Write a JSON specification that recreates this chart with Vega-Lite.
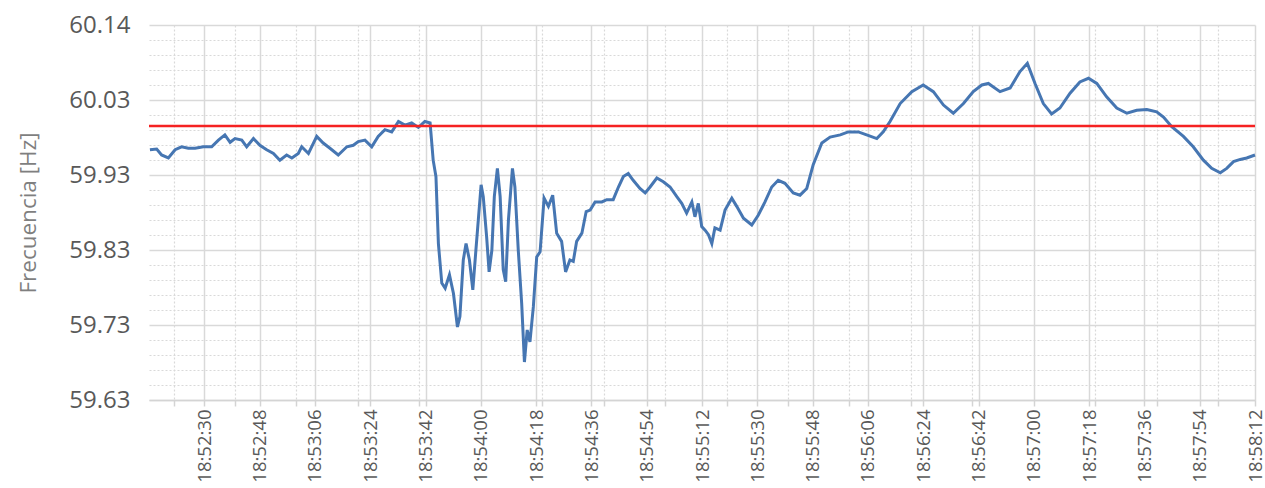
{
  "$schema": "https://vega.github.io/schema/vega-lite/v6.json",
  "width": 1106,
  "height": 375,
  "autosize": {"type": "none"},
  "padding": {"left": 149, "top": 25, "right": 10, "bottom": 88},
  "background": "white",
  "config": {"view": {"stroke": null}, "font": "Open Sans"},
  "datasets": {
    "freq": [
      {"t": "2024-01-01T18:52:12.3", "f": 59.968},
      {"t": "2024-01-01T18:52:14.5", "f": 59.969},
      {"t": "2024-01-01T18:52:16.1", "f": 59.961},
      {"t": "2024-01-01T18:52:18.3", "f": 59.957},
      {"t": "2024-01-01T18:52:20.5", "f": 59.968},
      {"t": "2024-01-01T18:52:22.6", "f": 59.972},
      {"t": "2024-01-01T18:52:24.8", "f": 59.970},
      {"t": "2024-01-01T18:52:27.0", "f": 59.970},
      {"t": "2024-01-01T18:52:29.7", "f": 59.972},
      {"t": "2024-01-01T18:52:32.4", "f": 59.972},
      {"t": "2024-01-01T18:52:34.6", "f": 59.981},
      {"t": "2024-01-01T18:52:36.7", "f": 59.988},
      {"t": "2024-01-01T18:52:38.4", "f": 59.978},
      {"t": "2024-01-01T18:52:40.0", "f": 59.983},
      {"t": "2024-01-01T18:52:42.2", "f": 59.981},
      {"t": "2024-01-01T18:52:43.8", "f": 59.972},
      {"t": "2024-01-01T18:52:46.0", "f": 59.983},
      {"t": "2024-01-01T18:52:48.1", "f": 59.974},
      {"t": "2024-01-01T18:52:50.3", "f": 59.968},
      {"t": "2024-01-01T18:52:52.5", "f": 59.963},
      {"t": "2024-01-01T18:52:54.6", "f": 59.954},
      {"t": "2024-01-01T18:52:56.8", "f": 59.961},
      {"t": "2024-01-01T18:52:58.5", "f": 59.957},
      {"t": "2024-01-01T18:53:00.6", "f": 59.963},
      {"t": "2024-01-01T18:53:01.7", "f": 59.972},
      {"t": "2024-01-01T18:53:03.9", "f": 59.963},
      {"t": "2024-01-01T18:53:06.6", "f": 59.986},
      {"t": "2024-01-01T18:53:08.7", "f": 59.977},
      {"t": "2024-01-01T18:53:10.9", "f": 59.970},
      {"t": "2024-01-01T18:53:13.6", "f": 59.961},
      {"t": "2024-01-01T18:53:16.4", "f": 59.972},
      {"t": "2024-01-01T18:53:18.5", "f": 59.974},
      {"t": "2024-01-01T18:53:20.1", "f": 59.979},
      {"t": "2024-01-01T18:53:22.3", "f": 59.981},
      {"t": "2024-01-01T18:53:24.5", "f": 59.972},
      {"t": "2024-01-01T18:53:26.6", "f": 59.986},
      {"t": "2024-01-01T18:53:28.8", "f": 59.995},
      {"t": "2024-01-01T18:53:31.0", "f": 59.992},
      {"t": "2024-01-01T18:53:33.2", "f": 60.006},
      {"t": "2024-01-01T18:53:35.3", "f": 60.001},
      {"t": "2024-01-01T18:53:37.5", "f": 60.004},
      {"t": "2024-01-01T18:53:39.7", "f": 59.998},
      {"t": "2024-01-01T18:53:41.8", "f": 60.006},
      {"t": "2024-01-01T18:53:43.5", "f": 60.004},
      {"t": "2024-01-01T18:53:44.5", "f": 59.954},
      {"t": "2024-01-01T18:53:45.4", "f": 59.932},
      {"t": "2024-01-01T18:53:46.2", "f": 59.842},
      {"t": "2024-01-01T18:53:47.3", "f": 59.789},
      {"t": "2024-01-01T18:53:48.4", "f": 59.782},
      {"t": "2024-01-01T18:53:49.8", "f": 59.800},
      {"t": "2024-01-01T18:53:51.1", "f": 59.775},
      {"t": "2024-01-01T18:53:52.4", "f": 59.730},
      {"t": "2024-01-01T18:53:53.2", "f": 59.744},
      {"t": "2024-01-01T18:53:54.3", "f": 59.820},
      {"t": "2024-01-01T18:53:55.2", "f": 59.842},
      {"t": "2024-01-01T18:53:56.3", "f": 59.820},
      {"t": "2024-01-01T18:53:57.4", "f": 59.780},
      {"t": "2024-01-01T18:53:58.4", "f": 59.833},
      {"t": "2024-01-01T18:54:00.1", "f": 59.921},
      {"t": "2024-01-01T18:54:00.8", "f": 59.905},
      {"t": "2024-01-01T18:54:01.9", "f": 59.851},
      {"t": "2024-01-01T18:54:02.7", "f": 59.804},
      {"t": "2024-01-01T18:54:03.6", "f": 59.833},
      {"t": "2024-01-01T18:54:04.4", "f": 59.905},
      {"t": "2024-01-01T18:54:05.4", "f": 59.943},
      {"t": "2024-01-01T18:54:06.3", "f": 59.905},
      {"t": "2024-01-01T18:54:07.3", "f": 59.807},
      {"t": "2024-01-01T18:54:08.1", "f": 59.791},
      {"t": "2024-01-01T18:54:09.0", "f": 59.874},
      {"t": "2024-01-01T18:54:10.3", "f": 59.943},
      {"t": "2024-01-01T18:54:11.1", "f": 59.918},
      {"t": "2024-01-01T18:54:12.2", "f": 59.833},
      {"t": "2024-01-01T18:54:13.3", "f": 59.762},
      {"t": "2024-01-01T18:54:14.2", "f": 59.683},
      {"t": "2024-01-01T18:54:15.1", "f": 59.726},
      {"t": "2024-01-01T18:54:16.0", "f": 59.710},
      {"t": "2024-01-01T18:54:17.1", "f": 59.757},
      {"t": "2024-01-01T18:54:18.2", "f": 59.824},
      {"t": "2024-01-01T18:54:19.3", "f": 59.831},
      {"t": "2024-01-01T18:54:20.6", "f": 59.903},
      {"t": "2024-01-01T18:54:22.0", "f": 59.892},
      {"t": "2024-01-01T18:54:23.4", "f": 59.907},
      {"t": "2024-01-01T18:54:24.7", "f": 59.856},
      {"t": "2024-01-01T18:54:26.3", "f": 59.845},
      {"t": "2024-01-01T18:54:27.6", "f": 59.804},
      {"t": "2024-01-01T18:54:29.0", "f": 59.820},
      {"t": "2024-01-01T18:54:30.1", "f": 59.818},
      {"t": "2024-01-01T18:54:31.2", "f": 59.845},
      {"t": "2024-01-01T18:54:32.9", "f": 59.856},
      {"t": "2024-01-01T18:54:34.3", "f": 59.885},
      {"t": "2024-01-01T18:54:35.6", "f": 59.887},
      {"t": "2024-01-01T18:54:37.2", "f": 59.898},
      {"t": "2024-01-01T18:54:39.4", "f": 59.898},
      {"t": "2024-01-01T18:54:41.0", "f": 59.901},
      {"t": "2024-01-01T18:54:43.1", "f": 59.901},
      {"t": "2024-01-01T18:54:44.8", "f": 59.918},
      {"t": "2024-01-01T18:54:46.4", "f": 59.932},
      {"t": "2024-01-01T18:54:48.0", "f": 59.936},
      {"t": "2024-01-01T18:54:49.6", "f": 59.927},
      {"t": "2024-01-01T18:54:51.8", "f": 59.916},
      {"t": "2024-01-01T18:54:53.5", "f": 59.910},
      {"t": "2024-01-01T18:54:55.1", "f": 59.918},
      {"t": "2024-01-01T18:54:57.3", "f": 59.930},
      {"t": "2024-01-01T18:54:59.4", "f": 59.925},
      {"t": "2024-01-01T18:55:01.6", "f": 59.918},
      {"t": "2024-01-01T18:55:03.8", "f": 59.905},
      {"t": "2024-01-01T18:55:05.4", "f": 59.896},
      {"t": "2024-01-01T18:55:07.0", "f": 59.883},
      {"t": "2024-01-01T18:55:08.7", "f": 59.898},
      {"t": "2024-01-01T18:55:09.7", "f": 59.878},
      {"t": "2024-01-01T18:55:10.8", "f": 59.896},
      {"t": "2024-01-01T18:55:11.9", "f": 59.865},
      {"t": "2024-01-01T18:55:13.0", "f": 59.860},
      {"t": "2024-01-01T18:55:14.1", "f": 59.854},
      {"t": "2024-01-01T18:55:15.2", "f": 59.842},
      {"t": "2024-01-01T18:55:16.2", "f": 59.863},
      {"t": "2024-01-01T18:55:17.9", "f": 59.860},
      {"t": "2024-01-01T18:55:19.5", "f": 59.887},
      {"t": "2024-01-01T18:55:21.7", "f": 59.903},
      {"t": "2024-01-01T18:55:23.3", "f": 59.892},
      {"t": "2024-01-01T18:55:25.5", "f": 59.876},
      {"t": "2024-01-01T18:55:28.2", "f": 59.867},
      {"t": "2024-01-01T18:55:30.3", "f": 59.880},
      {"t": "2024-01-01T18:55:32.5", "f": 59.898},
      {"t": "2024-01-01T18:55:34.7", "f": 59.918},
      {"t": "2024-01-01T18:55:36.8", "f": 59.927},
      {"t": "2024-01-01T18:55:39.0", "f": 59.923},
      {"t": "2024-01-01T18:55:41.7", "f": 59.910},
      {"t": "2024-01-01T18:55:43.9", "f": 59.907},
      {"t": "2024-01-01T18:55:46.1", "f": 59.916},
      {"t": "2024-01-01T18:55:48.2", "f": 59.948},
      {"t": "2024-01-01T18:55:51.0", "f": 59.977},
      {"t": "2024-01-01T18:55:53.7", "f": 59.985},
      {"t": "2024-01-01T18:55:57.0", "f": 59.988},
      {"t": "2024-01-01T18:55:59.6", "f": 59.992},
      {"t": "2024-01-01T18:56:02.9", "f": 59.992},
      {"t": "2024-01-01T18:56:05.6", "f": 59.988},
      {"t": "2024-01-01T18:56:08.9", "f": 59.983},
      {"t": "2024-01-01T18:56:11.0", "f": 59.992},
      {"t": "2024-01-01T18:56:13.2", "f": 60.006},
      {"t": "2024-01-01T18:56:16.5", "f": 60.030},
      {"t": "2024-01-01T18:56:20.3", "f": 60.046},
      {"t": "2024-01-01T18:56:24.0", "f": 60.055},
      {"t": "2024-01-01T18:56:27.3", "f": 60.046},
      {"t": "2024-01-01T18:56:30.6", "f": 60.028},
      {"t": "2024-01-01T18:56:33.8", "f": 60.017},
      {"t": "2024-01-01T18:56:37.1", "f": 60.030},
      {"t": "2024-01-01T18:56:40.3", "f": 60.046},
      {"t": "2024-01-01T18:56:43.1", "f": 60.055},
      {"t": "2024-01-01T18:56:45.2", "f": 60.057},
      {"t": "2024-01-01T18:56:49.0", "f": 60.046},
      {"t": "2024-01-01T18:56:52.3", "f": 60.051},
      {"t": "2024-01-01T18:56:55.5", "f": 60.073},
      {"t": "2024-01-01T18:56:57.9", "f": 60.084},
      {"t": "2024-01-01T18:57:00.4", "f": 60.057},
      {"t": "2024-01-01T18:57:03.1", "f": 60.030},
      {"t": "2024-01-01T18:57:05.8", "f": 60.016},
      {"t": "2024-01-01T18:57:08.5", "f": 60.024},
      {"t": "2024-01-01T18:57:11.8", "f": 60.044},
      {"t": "2024-01-01T18:57:15.0", "f": 60.059},
      {"t": "2024-01-01T18:57:17.8", "f": 60.064},
      {"t": "2024-01-01T18:57:20.5", "f": 60.057},
      {"t": "2024-01-01T18:57:23.7", "f": 60.039},
      {"t": "2024-01-01T18:57:27.0", "f": 60.024},
      {"t": "2024-01-01T18:57:30.3", "f": 60.017},
      {"t": "2024-01-01T18:57:33.5", "f": 60.021},
      {"t": "2024-01-01T18:57:36.8", "f": 60.022},
      {"t": "2024-01-01T18:57:40.0", "f": 60.019},
      {"t": "2024-01-01T18:57:42.2", "f": 60.012},
      {"t": "2024-01-01T18:57:44.9", "f": 59.999},
      {"t": "2024-01-01T18:57:48.7", "f": 59.986},
      {"t": "2024-01-01T18:57:51.9", "f": 59.972},
      {"t": "2024-01-01T18:57:55.2", "f": 59.954},
      {"t": "2024-01-01T18:57:57.9", "f": 59.943},
      {"t": "2024-01-01T18:58:00.7", "f": 59.937},
      {"t": "2024-01-01T18:58:02.8", "f": 59.943},
      {"t": "2024-01-01T18:58:05.0", "f": 59.952},
      {"t": "2024-01-01T18:58:07.2", "f": 59.955},
      {"t": "2024-01-01T18:58:09.3", "f": 59.957},
      {"t": "2024-01-01T18:58:12.0", "f": 59.961}
    ],
    "reference": [{"ref": 60.0}]
  },
  "encoding": {
    "y": {
      "type": "quantitative",
      "scale": {"domain": [59.632, 60.1355], "nice": false, "zero": false},
      "axis": {
        "title": "Frecuencia [Hz]",
        "values": [59.632, 59.65214, 59.67228, 59.69242, 59.71256, 59.7327, 59.75284, 59.77298, 59.79312, 59.81326, 59.8334, 59.85354, 59.87368, 59.89382, 59.91396, 59.9341, 59.95424, 59.97438, 59.99452, 60.01466, 60.0348, 60.05494, 60.07508, 60.09522, 60.11536, 60.1355],
        "format": ".2f",
        "labelExpr": "abs((datum.value - 59.632) / 0.1007 - round((datum.value - 59.632) / 0.1007)) < 0.05 ? datum.label : ''",
        "labelFontSize": 24,
        "labelColor": "#595959",
        "labelPadding": 19,
        "labelOverlap": false,
        "labelFlush": false,
        "ticks": false,
        "domain": false,
        "grid": true,
        "gridColor": "#d9d9d9",
        "gridWidth": {"condition": {"test": "abs((datum.value - 59.632) / 0.1007 - round((datum.value - 59.632) / 0.1007)) < 0.05", "value": 1.5}, "value": 1.2},
        "gridDash": {"condition": {"test": "abs((datum.value - 59.632) / 0.1007 - round((datum.value - 59.632) / 0.1007)) < 0.05", "value": []}, "value": [2, 2]},
        "titleFontSize": 22.5,
        "titleFontWeight": "normal",
        "titleColor": "#7f7f7f",
        "titlePadding": 28
      }
    }
  },
  "layer": [
    {
      "data": {"name": "freq"},
      "mark": {"type": "line", "color": "#4676B2", "strokeWidth": 3},
      "encoding": {
        "x": {
          "field": "t",
          "type": "temporal",
          "scale": {
            "domain": [
              {"year": 2024, "month": 1, "date": 1, "hours": 18, "minutes": 52, "seconds": 12},
              {"year": 2024, "month": 1, "date": 1, "hours": 18, "minutes": 58, "seconds": 12}
            ],
            "nice": false
          },
          "axis": {
            "title": null,
            "values": [
              {"year": 2024, "month": 1, "date": 1, "hours": 18, "minutes": 52, "seconds": 20},
              {"year": 2024, "month": 1, "date": 1, "hours": 18, "minutes": 52, "seconds": 30},
              {"year": 2024, "month": 1, "date": 1, "hours": 18, "minutes": 52, "seconds": 40},
              {"year": 2024, "month": 1, "date": 1, "hours": 18, "minutes": 52, "seconds": 48},
              {"year": 2024, "month": 1, "date": 1, "hours": 18, "minutes": 53, "seconds": 0},
              {"year": 2024, "month": 1, "date": 1, "hours": 18, "minutes": 53, "seconds": 6},
              {"year": 2024, "month": 1, "date": 1, "hours": 18, "minutes": 53, "seconds": 20},
              {"year": 2024, "month": 1, "date": 1, "hours": 18, "minutes": 53, "seconds": 24},
              {"year": 2024, "month": 1, "date": 1, "hours": 18, "minutes": 53, "seconds": 40},
              {"year": 2024, "month": 1, "date": 1, "hours": 18, "minutes": 53, "seconds": 42},
              {"year": 2024, "month": 1, "date": 1, "hours": 18, "minutes": 54, "seconds": 0},
              {"year": 2024, "month": 1, "date": 1, "hours": 18, "minutes": 54, "seconds": 18},
              {"year": 2024, "month": 1, "date": 1, "hours": 18, "minutes": 54, "seconds": 20},
              {"year": 2024, "month": 1, "date": 1, "hours": 18, "minutes": 54, "seconds": 36},
              {"year": 2024, "month": 1, "date": 1, "hours": 18, "minutes": 54, "seconds": 40},
              {"year": 2024, "month": 1, "date": 1, "hours": 18, "minutes": 54, "seconds": 54},
              {"year": 2024, "month": 1, "date": 1, "hours": 18, "minutes": 55, "seconds": 0},
              {"year": 2024, "month": 1, "date": 1, "hours": 18, "minutes": 55, "seconds": 12},
              {"year": 2024, "month": 1, "date": 1, "hours": 18, "minutes": 55, "seconds": 20},
              {"year": 2024, "month": 1, "date": 1, "hours": 18, "minutes": 55, "seconds": 30},
              {"year": 2024, "month": 1, "date": 1, "hours": 18, "minutes": 55, "seconds": 40},
              {"year": 2024, "month": 1, "date": 1, "hours": 18, "minutes": 55, "seconds": 48},
              {"year": 2024, "month": 1, "date": 1, "hours": 18, "minutes": 56, "seconds": 0},
              {"year": 2024, "month": 1, "date": 1, "hours": 18, "minutes": 56, "seconds": 6},
              {"year": 2024, "month": 1, "date": 1, "hours": 18, "minutes": 56, "seconds": 20},
              {"year": 2024, "month": 1, "date": 1, "hours": 18, "minutes": 56, "seconds": 24},
              {"year": 2024, "month": 1, "date": 1, "hours": 18, "minutes": 56, "seconds": 40},
              {"year": 2024, "month": 1, "date": 1, "hours": 18, "minutes": 56, "seconds": 42},
              {"year": 2024, "month": 1, "date": 1, "hours": 18, "minutes": 57, "seconds": 0},
              {"year": 2024, "month": 1, "date": 1, "hours": 18, "minutes": 57, "seconds": 18},
              {"year": 2024, "month": 1, "date": 1, "hours": 18, "minutes": 57, "seconds": 20},
              {"year": 2024, "month": 1, "date": 1, "hours": 18, "minutes": 57, "seconds": 36},
              {"year": 2024, "month": 1, "date": 1, "hours": 18, "minutes": 57, "seconds": 40},
              {"year": 2024, "month": 1, "date": 1, "hours": 18, "minutes": 57, "seconds": 54},
              {"year": 2024, "month": 1, "date": 1, "hours": 18, "minutes": 58, "seconds": 0},
              {"year": 2024, "month": 1, "date": 1, "hours": 18, "minutes": 58, "seconds": 12}
            ],
            "labelExpr": "(minutes(datum.value) * 60 + seconds(datum.value)) % 18 == 0 ? timeFormat(datum.value, '%H:%M:%S') : ''",
            "labelAngle": 270,
            "labelFontSize": 18.5,
            "labelColor": "#595959",
            "labelPadding": 3,
            "labelOverlap": false,
            "labelFlush": false,
            "labelBound": false,
            "tickSize": 6,
            "tickColor": "#d4d4d4",
            "tickWidth": 1.5,
            "domainColor": "#d4d4d4",
            "domainWidth": 1.5,
            "grid": true,
            "gridColor": "#d9d9d9",
            "gridWidth": {"condition": {"test": "(minutes(datum.value) * 60 + seconds(datum.value)) % 18 == 0", "value": 1.5}, "value": 1.2},
            "gridDash": {"condition": {"test": "(minutes(datum.value) * 60 + seconds(datum.value)) % 18 == 0", "value": []}, "value": [2, 2]}
          }
        },
        "y": {"field": "f"}
      }
    },
    {
      "data": {"name": "reference"},
      "mark": {"type": "rule", "color": "#F52222", "strokeWidth": 2.5},
      "encoding": {
        "y": {"field": "ref"}
      }
    }
  ]
}
